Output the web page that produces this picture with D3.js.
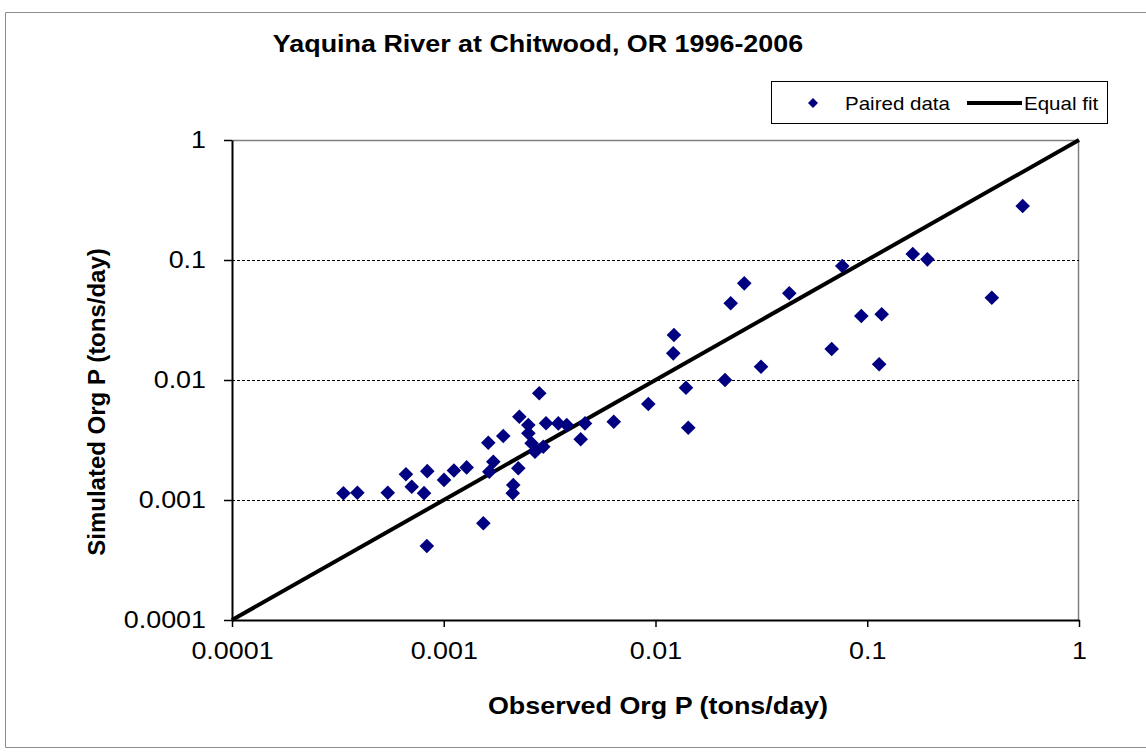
<!DOCTYPE html>
<html>
<head>
<meta charset="utf-8">
<script src="https://cdn.jsdelivr.net/npm/d3@7"></script>
<style>
  html, body { margin: 0; padding: 0; background: #fff; }
  svg { display: block; font-family: "Liberation Sans", Arial, sans-serif; }
</style>
</head>
<body>
<svg id="chart" width="1146" height="756"></svg>
<script>
const chartTitle = "Yaquina River at Chitwood, OR 1996-2006";
const xAxisTitle = "Observed Org P (tons/day)";
const yAxisTitle = "Simulated Org P (tons/day)";
const tickValues = [0.0001, 0.001, 0.01, 0.1, 1];
const tickLabels = ["0.0001", "0.001", "0.01", "0.1", "1"];
const gridValues = [0.001, 0.01, 0.1];
const seriesNames = ["Paired data", "Equal fit"];

// Observed (x) and simulated (y) Org P, tons/day
const observed = [
  0.000336, 0.000391, 0.000544, 0.000663, 0.000706, 0.000807, 0.000836, 0.000832,
  0.001003, 0.001117, 0.001283, 0.001538, 0.001623, 0.001910, 0.001714, 0.001641,
  0.002249, 0.002129, 0.002117, 0.002275, 0.002508, 0.002510, 0.002600, 0.002698,
  0.002951, 0.002825, 0.003041, 0.003475, 0.003809, 0.004645, 0.004433, 0.006351,
  0.009247, 0.01222, 0.01213, 0.01393, 0.01428, 0.02265, 0.02625, 0.02129,
  0.03150, 0.04283, 0.06792, 0.07621, 0.09375, 0.1170, 0.1138, 0.1640,
  0.1923, 0.3875, 0.5420
];
const simulated = [
  0.001137, 0.00115, 0.00115, 0.00164, 0.00129, 0.00114, 0.00174, 0.000414,
  0.00147, 0.00176, 0.00187, 0.00064, 0.003004, 0.003415, 0.002085, 0.00172,
  0.001837, 0.001334, 0.00114, 0.00494, 0.004217, 0.0036, 0.002968, 0.002528,
  0.00278, 0.00775, 0.004355, 0.00435, 0.00422, 0.00435, 0.003205, 0.00449,
  0.00631, 0.0237, 0.01668, 0.00863, 0.0040, 0.04357, 0.0639, 0.0100,
  0.0129, 0.0528, 0.01813, 0.0891, 0.0341, 0.03527, 0.01352, 0.1122,
  0.1013, 0.0485, 0.2818
];
const equalFit = [0.0001, 1];

const svg = d3.select("#chart");
const pLeft = 232, pRight = 1079, pTop = 140, pBottom = 620;
const navy = "#000080";

const x = d3.scaleLog().domain([0.0001, 1]).range([pLeft, pRight]);
const y = d3.scaleLog().domain([0.0001, 1]).range([pBottom, pTop]);

svg.append("rect").attr("width", 1146).attr("height", 756).attr("fill", "#fff");

// outer frame
svg.append("path")
  .attr("d", "M1150,12.5H5.5V747.5H1150")
  .attr("fill", "none").attr("stroke", "#8c8c8c").attr("stroke-width", 1);

// title
svg.append("text").attr("class", "st big")
  .attr("x", 538).attr("y", 52).attr("text-anchor", "middle")
  .attr("font-size", 24).attr("font-weight", "bold").text(chartTitle);

// plot area border (top/right gray)
svg.append("path")
  .attr("d", `M${pLeft},${pTop + 0.5}H${pRight - 0.5}V${pBottom}`)
  .attr("fill", "none").attr("stroke", "#808080").attr("stroke-width", 1.5);

// gridlines
svg.append("g").selectAll("line").data(gridValues).join("line")
  .attr("x1", pLeft).attr("x2", pRight)
  .attr("y1", d => Math.round(y(d)) + 0.5).attr("y2", d => Math.round(y(d)) + 0.5)
  .attr("stroke", "#000").attr("stroke-width", 1).attr("stroke-dasharray", "3,2");

// axes
const fmt = d => tickLabels[tickValues.indexOf(d)];
const xAxis = svg.append("g").attr("transform", `translate(0,${pBottom})`)
  .call(d3.axisBottom(x).tickValues(tickValues).tickFormat(fmt).tickSize(7).tickSizeOuter(0).tickPadding(15));
const yAxis = svg.append("g").attr("transform", `translate(${pLeft},0)`)
  .call(d3.axisLeft(y).tickValues(tickValues).tickFormat(fmt).tickSize(8).tickSizeOuter(0).tickPadding(18));
[xAxis, yAxis].forEach(g => {
  g.select(".domain").attr("stroke", "#000").attr("stroke-width", 2);
  g.selectAll(".tick line").attr("stroke", "#000").attr("stroke-width", 1.5);
  g.selectAll(".tick text").attr("font-size", 24).attr("fill", "#000")
    .attr("font-family", "'Liberation Sans', Arial, sans-serif").attr("class", "st big");
});
xAxis.selectAll(".tick text").attr("dy", "0.71em");

// equal fit line
svg.append("line")
  .attr("x1", x(equalFit[0])).attr("y1", y(equalFit[0]))
  .attr("x2", x(equalFit[1])).attr("y2", y(equalFit[1]))
  .attr("stroke", "#000").attr("stroke-width", 4);

// diamonds
const diamond = r => `M0,${-r}L${r},0L0,${r}L${-r},0Z`;
svg.append("g").selectAll("path").data(observed).join("path")
  .attr("d", diamond(7.3))
  .attr("transform", (d, i) => `translate(${x(d)},${y(simulated[i])})`)
  .attr("fill", navy);

// axis titles
svg.append("text").attr("class", "st big")
  .attr("x", 658).attr("y", 714).attr("text-anchor", "middle")
  .attr("font-size", 24).attr("font-weight", "bold").text(xAxisTitle);
svg.append("text")
  .attr("transform", "translate(105,402) rotate(-90)").attr("text-anchor", "middle")
  .attr("font-size", 24).attr("font-weight", "bold").text(yAxisTitle);

// legend
const lg = svg.append("g");
lg.append("rect").attr("x", 771.5).attr("y", 81.5).attr("width", 336).attr("height", 42)
  .attr("fill", "#fff").attr("stroke", "#000").attr("stroke-width", 1);
lg.append("path").attr("d", diamond(5)).attr("transform", "translate(813,103)").attr("fill", navy);
lg.append("text").attr("class", "st small").attr("x", 845).attr("y", 110).attr("font-size", 19).text(seriesNames[0]);
lg.append("line").attr("x1", 967).attr("x2", 1022).attr("y1", 103).attr("y2", 103)
  .attr("stroke", "#000").attr("stroke-width", 4);
lg.append("text").attr("class", "st small").attr("x", 1024).attr("y", 110).attr("font-size", 19).text(seriesNames[1]);

// slight horizontal stretch like the reference
svg.selectAll("text.st").each(function() {
  const k = this.classList.contains("big") ? 1.12 : 1.08;
  const w = this.getComputedTextLength();
  d3.select(this).attr("textLength", w * k).attr("lengthAdjust", "spacingAndGlyphs");
});
</script>
</body>
</html>
